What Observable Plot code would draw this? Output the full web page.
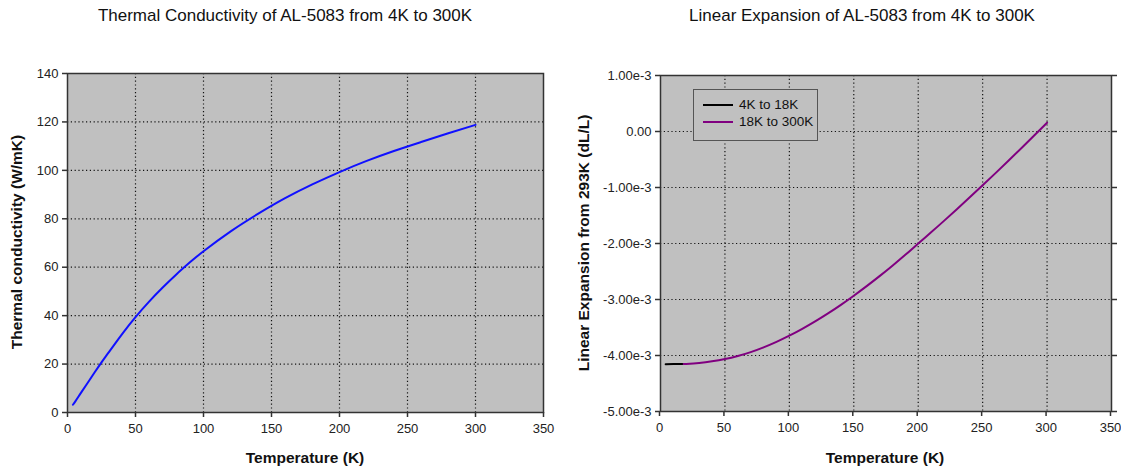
<!DOCTYPE html>
<html><head><meta charset="utf-8">
<script src="https://cdn.jsdelivr.net/npm/d3@7"></script>
<script src="https://cdn.jsdelivr.net/npm/@observablehq/plot@0.6"></script>
<style>
body{margin:0;background:#fff;font-family:"Liberation Sans",Arial,sans-serif;}
#wrap{position:relative;width:1121px;height:468px;overflow:hidden;background:#fff;}
.title{position:absolute;top:6px;font-size:17px;color:#111;white-space:nowrap;transform:translateX(-50%);}
.xlab{position:absolute;font-weight:bold;font-size:15.5px;color:#111;transform:translate(-50%,-50%);white-space:nowrap;}
.ylab{position:absolute;font-weight:bold;font-size:15.5px;color:#111;transform:translate(-50%,-50%) rotate(-90deg);white-space:nowrap;}
.plot{position:absolute;top:0;}
.plot svg text{fill:#222 !important;font-size:13px !important;font-family:"Liberation Sans",Arial,sans-serif !important;}
.legend{position:absolute;left:693px;top:89px;width:123px;height:50px;background:#c0c0c0;border:1px solid #555;font-size:13.5px;color:#111;}
.legend .row{position:absolute;left:9px;display:flex;align-items:center;}
.legend .sw{width:30px;height:2px;margin-right:6px;}
</style>
</head><body>
<div id="wrap">
  <div class="title" style="left:285px">Thermal Conductivity of AL-5083 from 4K to 300K</div>
  <div class="title" style="left:862px">Linear Expansion of AL-5083 from 4K to 300K</div>
  <div class="plot" id="p1" style="left:0"></div>
  <div class="plot" id="p2" style="left:560px"></div>
  <div class="xlab" style="left:305px;top:458px">Temperature (K)</div>
  <div class="xlab" style="left:885px;top:458px">Temperature (K)</div>
  <div class="ylab" style="left:17px;top:242px">Thermal conductivity (W/mK)</div>
  <div class="ylab" style="left:584px;top:243px">Linear Expansion from 293K (dL/L)</div>
  <div class="legend">
    <div class="row" style="top:7px"><div class="sw" style="background:#000"></div>4K to 18K</div>
    <div class="row" style="top:24px"><div class="sw" style="background:#800080"></div>18K to 300K</div>
  </div>
</div>
<script>
// ---- Data ----
const xTicks = [0, 50, 100, 150, 200, 250, 300, 350];
const xGrid = [50, 100, 150, 200, 250, 300];
const kTicks = [0, 20, 40, 60, 80, 100, 120, 140];
const kGrid = [20, 40, 60, 80, 100, 120];
const eTicks = [1e-3, 0, -1e-3, -2e-3, -3e-3, -4e-3, -5e-3];
const eGrid = [0, -1e-3, -2e-3, -3e-3, -4e-3];

const kTemp = [4, 6, 8, 10, 15, 20, 25, 30, 40, 50, 60, 70, 80, 90, 100, 120, 140, 160, 180, 200, 220, 240, 260, 280, 300];
const kValue = [3.2, 4.8, 6.5, 8.2, 12.4, 16.6, 20.7, 24.6, 32.3, 39.4, 45.8, 51.6, 57.0, 62.0, 66.6, 74.8, 82.0, 88.5, 94.2, 99.3, 103.9, 108.0, 111.7, 115.3, 118.8];

const lowTemp = [4, 10, 18];
const lowValue = [-4.155e-3, -4.154e-3, -4.153e-3];

const hiTemp = [18, 20, 30, 40, 50, 60, 70, 80, 90, 100, 110, 120, 130, 140, 150, 160, 170, 180, 190, 200, 210, 220, 230, 240, 250, 260, 270, 280, 290, 300];
const hiValue = [-4.153e-3, -4.150e-3, -4.132e-3, -4.104e-3, -4.064e-3, -4.009e-3, -3.939e-3, -3.854e-3, -3.756e-3, -3.646e-3, -3.524e-3, -3.391e-3, -3.248e-3, -3.095e-3, -2.932e-3, -2.761e-3, -2.583e-3, -2.397e-3, -2.203e-3, -2.000e-3, -1.800e-3, -1.596e-3, -1.388e-3, -1.176e-3, -0.961e-3, -0.743e-3, -0.522e-3, -0.298e-3, -0.072e-3, 0.156e-3];

const kData = kTemp.map((t, i) => ({t, v: kValue[i]}));
const lowData = lowTemp.map((t, i) => ({t, v: lowValue[i]}));
const hiData = hiTemp.map((t, i) => ({t, v: hiValue[i]}));

const gridStyle = {stroke: "#000", strokeOpacity: 0.9, strokeWidth: 1.2, strokeDasharray: "1.2,2.6"};
const plotStyle = {fontFamily: '"Liberation Sans", Arial, sans-serif', fontSize: "13px", background: "transparent", color: "#222"};

const p1 = Plot.plot({
  width: 560, height: 468,
  marginLeft: 67, marginRight: 17, marginTop: 73, marginBottom: 56,
  style: plotStyle,
  x: {domain: [0, 350]},
  y: {domain: [0, 140]},
  marks: [
    Plot.frame({fill: "#c0c0c0"}),
    Plot.gridX(xGrid, gridStyle),
    Plot.gridY(kGrid, gridStyle),
    Plot.frame({stroke: "#333", strokeWidth: 1.5}),
    Plot.axisX(xTicks, {tickSize: 5, tickPadding: 6, stroke: "#333", strokeWidth: 1.5, label: null}),
    Plot.axisY(kTicks, {tickSize: 5, tickPadding: 4, stroke: "#333", strokeWidth: 1.5, label: null}),
    Plot.line(kData, {x: "t", y: "v", stroke: "#1010ff", strokeWidth: 2, curve: "natural"})
  ]
});
document.getElementById("p1").append(p1);

const p2 = Plot.plot({
  width: 561, height: 468,
  marginLeft: 100, marginRight: 10, marginTop: 75, marginBottom: 57,
  style: plotStyle,
  x: {domain: [0, 350]},
  y: {domain: [-5e-3, 1e-3]},
  marks: [
    Plot.frame({fill: "#c0c0c0"}),
    Plot.gridX(xGrid, gridStyle),
    Plot.gridY(eGrid, gridStyle),
    Plot.frame({stroke: "#333", strokeWidth: 1.5}),
    Plot.axisX(xTicks, {tickSize: 5, tickPadding: 6, stroke: "#333", strokeWidth: 1.5, label: null, dx: -1}),
    Plot.axisY(eTicks, {tickSize: 5, tickPadding: 4, stroke: "#333", strokeWidth: 1.5, label: null,
      tickFormat: v => v === 0 ? "0.00" : v.toExponential(2)}),
    Plot.axisY(eTicks, {anchor: "right", tickSize: 5, stroke: "#333", strokeWidth: 1.5, label: null, tickFormat: () => ""}),
    Plot.line(lowData, {x: "t", y: "v", stroke: "#000", strokeWidth: 2}),
    Plot.line(hiData, {x: "t", y: "v", stroke: "#800080", strokeWidth: 2, curve: "natural"})
  ]
});
document.getElementById("p2").append(p2);
</script>
</body></html>
